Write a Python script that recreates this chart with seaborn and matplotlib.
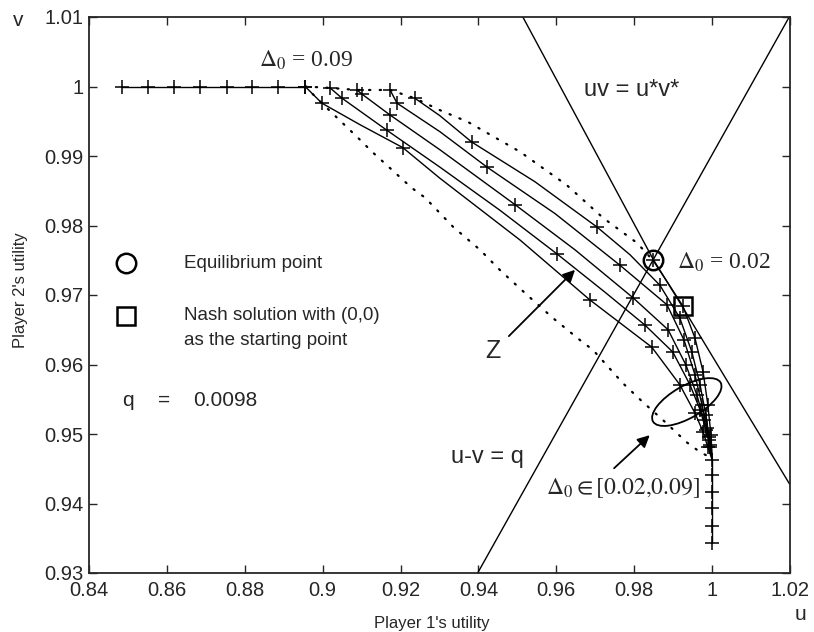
import numpy as np
import pandas as pd
import matplotlib
matplotlib.use("Agg")
import matplotlib.pyplot as plt
import seaborn as sns
from matplotlib.patches import Ellipse
from matplotlib.transforms import ScaledTranslation

sns.set_theme(style="ticks")
plt.rcParams['font.family'] = ['Liberation Sans', 'DejaVu Sans']
plt.rcParams['mathtext.fontset'] = 'stix'

# ---------------- data ----------------
# horizontal start segment at v = 1
h_u = [0.8484, 0.8551, 0.8618, 0.8685, 0.8754, 0.8818, 0.8885, 0.8955]
h_v = [1.0, 1.0, 1.0, 1.0, 1.0, 1.0, 1.0, 1.0]

# vertical tail at u = 1
t_u = [1.0, 1.0, 1.0, 1.0, 1.0, 1.0]
t_v = [0.9463, 0.9441, 0.9417, 0.9394, 0.9368, 0.9343]

# upper dotted curve
d1_u = [0.8955, 0.9019, 0.9088, 0.9173, 0.9237, 0.9301, 0.9373, 0.9507, 0.9627, 0.9720, 0.9807, 0.9848]
d1_v = [1.0, 0.9998, 0.9995, 0.9995, 0.9983, 0.9966, 0.9949, 0.9906, 0.9858, 0.9811, 0.9775, 0.9750]

# lower dotted curve
d2_u = [0.8955, 0.8998, 0.9037, 0.9091, 0.9127, 0.9178, 0.9229, 0.9263, 0.9335, 0.9404, 0.9455,
        0.9525, 0.9591, 0.9661, 0.9694, 0.9771, 0.9822, 0.9874, 0.9935, 0.9969, 1.0]
d2_v = [1.0, 0.9976, 0.9955, 0.9926, 0.9906, 0.9880, 0.9854, 0.9840, 0.9798, 0.9765, 0.9736,
        0.9700, 0.9667, 0.9635, 0.9621, 0.9573, 0.9546, 0.9520, 0.9488, 0.9474, 0.9465]

# solid trajectories (u, v, marker flag)
a_u = [0.9237, 0.9301, 0.9383, 0.9545, 0.9704, 0.9789, 0.9866, 0.9917, 0.9948, 0.9969, 0.9984, 0.9992, 1.0]
a_v = [0.9983, 0.9958, 0.9920, 0.9863, 0.9798, 0.9758, 0.9714, 0.9667, 0.9618, 0.9571, 0.9527, 0.9496, 0.9465]
a_m = [1, 0, 1, 0, 1, 0, 1, 1, 1, 1, 1, 1, 0]

b_u = [0.9173, 0.9191, 0.9301, 0.9422, 0.9597, 0.9763, 0.9884, 0.9928, 0.9956, 0.9974, 0.9987, 0.9995, 1.0]
b_v = [0.9995, 0.9976, 0.9935, 0.9884, 0.9817, 0.9743, 0.9686, 0.9635, 0.9585, 0.9542, 0.9509, 0.9484, 0.9463]
b_m = [1, 1, 0, 1, 0, 1, 1, 1, 1, 1, 1, 1, 0]

c_u = [0.9088, 0.9101, 0.9173, 0.9301, 0.9494, 0.9648, 0.9797, 0.9887, 0.9933, 0.9961, 0.9979, 0.9992, 1.0]
c_v = [0.9995, 0.9989, 0.9959, 0.9909, 0.9830, 0.9765, 0.9696, 0.9650, 0.9599, 0.9556, 0.9520, 0.9491, 0.9463]
c_m = [1, 1, 1, 0, 1, 0, 1, 1, 1, 1, 1, 1, 0]

dd_u = [0.9019, 0.9050, 0.9165, 0.9301, 0.9455, 0.9602, 0.9725, 0.9827, 0.9899, 0.9943, 0.9969, 0.9984, 0.9995, 1.0]
dd_v = [0.9998, 0.9983, 0.9937, 0.9884, 0.9822, 0.9759, 0.9704, 0.9657, 0.9618, 0.9571, 0.9535, 0.9506, 0.9481, 0.9463]
dd_m = [1, 1, 1, 0, 0, 1, 0, 1, 1, 1, 1, 1, 1, 0]

e_u = [0.8955, 0.8998, 0.9096, 0.9206, 0.9301, 0.9507, 0.9686, 0.9845, 0.9917, 0.9956, 0.9977, 0.9989, 1.0]
e_v = [1.0, 0.9976, 0.9945, 0.9912, 0.9868, 0.9779, 0.9693, 0.9625, 0.9571, 0.9530, 0.9503, 0.9481, 0.9463]
e_m = [1, 1, 0, 1, 0, 0, 1, 1, 1, 1, 1, 1, 0]

f_u = [0.9848, 0.9887, 0.9925, 0.9956, 0.9977, 0.9989, 0.9997, 1.0]
f_v = [0.9750, 0.9717, 0.9684, 0.9638, 0.9589, 0.9542, 0.9499, 0.9470]
f_m = [1, 0, 1, 1, 1, 1, 1, 0]

# reference lines
uv_u = [0.9514, 0.9848, 0.9925, 1.02]
uv_v = [1.01, 0.9752, 0.9682, 0.9427]
q_u = [0.9398, 1.02]
q_v = [0.93, 1.0102]

eq_u, eq_v = 0.9848, 0.9750
nash_u, nash_v = 0.9925, 0.9684

xticks = [0.84, 0.86, 0.88, 0.9, 0.92, 0.94, 0.96, 0.98, 1.0, 1.02]
xtick_labels = ["0.84", "0.86", "0.88", "0.9", "0.92", "0.94", "0.96", "0.98", "1", "1.02"]
yticks = [0.93, 0.94, 0.95, 0.96, 0.97, 0.98, 0.99, 1.0, 1.01]
ytick_labels = ["0.93", "0.94", "0.95", "0.96", "0.97", "0.98", "0.99", "1", "1.01"]

# ---------------- figure ----------------
fig = plt.figure(figsize=(8.14, 6.32), dpi=100)
ax = fig.add_axes([89/814, (632-573)/632, 701/814, 556/632])
ax.set_xlim(0.84, 1.02)
ax.set_ylim(0.93, 1.01)

def draw_line(u, v, ls='-', lw=1.0, cap='butt'):
    df = pd.DataFrame({'u': u, 'v': v})
    sns.lineplot(data=df, x='u', y='v', ax=ax, sort=False, estimator=None,
                 color='black', lw=lw, linestyle=ls, dash_capstyle=cap)

def draw_marks(u, v, m=None):
    df = pd.DataFrame({'u': u, 'v': v})
    if m is not None:
        df = df[np.array(m) == 1]
    sns.scatterplot(data=df, x='u', y='v', ax=ax, marker='+', color='black',
                    s=110, linewidth=1.1, zorder=3)

draw_line(h_u, h_v); draw_marks(h_u, h_v)
draw_line(t_u, t_v); draw_marks(t_u, t_v)
draw_line(d1_u, d1_v, ls=(0, (0.6, 4.2)), lw=1.6, cap='round')
draw_line(d2_u, d2_v, ls=(0, (0.6, 4.2)), lw=1.6, cap='round')
for su, sv, sm in [(a_u, a_v, a_m), (b_u, b_v, b_m), (c_u, c_v, c_m),
                   (dd_u, dd_v, dd_m), (e_u, e_v, e_m), (f_u, f_v, f_m)]:
    draw_line(su, sv)
    draw_marks(su, sv, sm)
draw_line(uv_u, uv_v)
draw_line(q_u, q_v)

ax.plot([eq_u], [eq_v], marker='o', ms=14, mfc='none', mec='black', mew=1.8)
ax.plot([nash_u], [nash_v], marker='s', ms=13, mfc='none', mec='black', mew=1.8)

# legend-like annotations
ax.plot([0.8495], [0.9746], marker='o', ms=14, mfc='none', mec='black', mew=1.8)
ax.plot([0.8495], [0.9670], marker='s', ms=13, mfc='none', mec='black', mew=1.8)
fs = 13.5
ax.text(0.8644, 0.9746, "Equilibrium point", fontsize=fs, va='center', ha='left')
ax.text(0.8644, 0.9671, "Nash solution with (0,0)", fontsize=fs, va='center', ha='left')
ax.text(0.8644, 0.9635, "as the starting point", fontsize=fs, va='center', ha='left')
ax.text(0.8485, 0.9540, "q", fontsize=15, va='baseline', ha='left')
ax.text(0.8593, 0.9540, "=", fontsize=15, va='baseline', ha='center')
ax.text(0.8667, 0.9540, "0.0098", fontsize=15, va='baseline', ha='left')

serif = ['Liberation Serif', 'DejaVu Serif']
ax.text(0.8957, 1.0038, r"$\Delta_0$ = 0.09", fontsize=17, family=serif, ha='center', va='center')
ax.text(0.9910, 0.9747, r"$\Delta_0$ = 0.02", fontsize=17, family=serif, ha='left', va='center')
ax.text(0.9794, 0.9995, "uv = u*v*", fontsize=17, ha='center', va='center')
ax.text(0.9437, 0.9619, "Z", fontsize=18, ha='center', va='center')
ax.text(0.9424, 0.9467, "u-v = q", fontsize=17, ha='center', va='center')
ax.text(0.9969, 0.9422, r"$\Delta_0\in\left[0.02{,}0.09\right]$", fontsize=17, family=serif,
        ha='right', va='center')

ax.annotate("", xy=(0.9653, 0.9739), xytext=(0.9473, 0.9638),
            arrowprops=dict(arrowstyle='-|>', color='black', lw=1.3, mutation_scale=18))
ax.annotate("", xy=(0.9845, 0.9501), xytext=(0.9743, 0.9448),
            arrowprops=dict(arrowstyle='-|>', color='black', lw=1.3, mutation_scale=18))

ell = Ellipse((0, 0), 78, 32, angle=30, fill=False, ec='black', lw=1.3,
              transform=ScaledTranslation(0.9935, 0.9546, ax.transData))
ax.add_patch(ell)

ax.set_xticks(xticks, xtick_labels)
ax.set_yticks(yticks, ytick_labels)
ax.tick_params(direction='in', top=True, right=True, length=6, width=1, labelsize=14.5)
ax.tick_params(axis='x', pad=6)
ax.tick_params(axis='y', pad=4)
for sp in ax.spines.values():
    sp.set_linewidth(1.3)
ax.set_xlabel("Player 1's utility", fontsize=12)
ax.set_ylabel("Player 2's utility", fontsize=12)
ax.xaxis.set_label_coords((432-89)/701, -(616-573)/556)
ax.yaxis.set_label_coords(-(89-28)/701, (573-290)/556)
fig.text(801/814, 1 - 614/632, "u", fontsize=15, ha='center', va='center')
fig.text(18/814, 1 - 20/632, "v", fontsize=15, ha='center', va='center')

fig.savefig("out.png", dpi=100)
